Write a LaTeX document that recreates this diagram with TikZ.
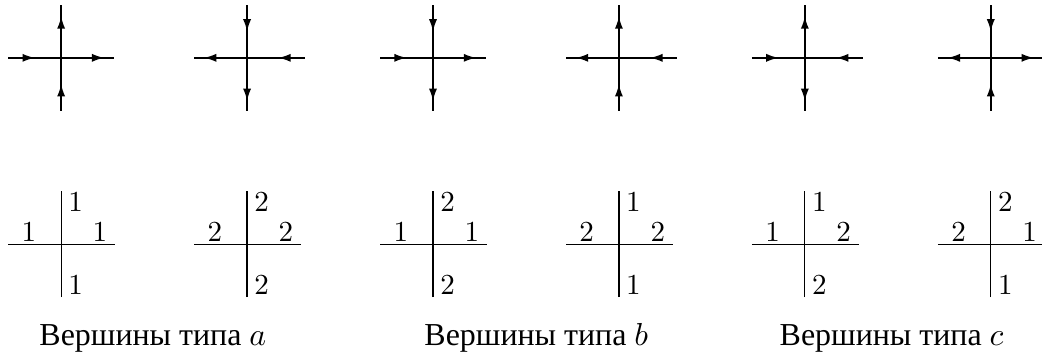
\documentclass[tikz,border=0pt]{standalone}
\usepackage{fontspec}
\newfontfamily\capfont{Liberation Serif}
\usetikzlibrary{arrows.meta,calc}
\tikzset{
  arm/.style={draw=black,line width=0.5pt},
  tip/.style={-{Latex[length=4.2pt,width=2.8pt]},draw=black,line width=0.5pt},
  cross/.style={draw=black,line width=0.4pt},
  num/.style={inner sep=0.6pt},
  capt/.style={anchor=base,font=\capfont\fontsize{11}{13}\selectfont},
}

\begin{document}
\begin{tikzpicture}[x=1cm,y=1cm]
\useasboundingbox (0,0) rectangle (12.61,4.31);

% arrow vertices: direction of each arm's arrow (+1 right/up, -1 left/down)
\foreach \i/\l/\r/\t/\b in {0/1/1/1/1,1/-1/-1/-1/-1,2/1/1/-1/-1,3/-1/-1/1/1,4/1/-1/1/-1,5/-1/1/-1/1}{
  \coordinate (a\i) at ({0.74+2.25*\i},3.61);
  \draw[arm] ($(a\i)+(-0.64,0)$) -- ($(a\i)+({0.67-0.03*(\r)},0)$);
  \draw[arm] ($(a\i)+(0,-0.64)$) -- ($(a\i)+(0,0.64)$);
  \draw[tip] ($(a\i)+({-0.42-0.05*(\l)},0)$) -- ++({0.15*(\l)},0);
  \draw[tip] ($(a\i)+({0.45-0.08*(\r)},0)$) -- ++({0.15*(\r)},0);
  \draw[tip] ($(a\i)+(0,{0.41-0.06*(\t)})$) -- ++(0,{0.15*(\t)});
  \draw[tip] ($(a\i)+(0,{-0.42-0.05*(\b)})$) -- ++(0,{0.15*(\b)});
}

% weighted vertices: 1 = right/up, 2 = left/down
\foreach \i/\l/\r/\t/\b in {0/1/1/1/1,1/2/2/2/2,2/1/1/2/2,3/2/2/1/1,4/1/2/1/2,5/2/1/2/1}{
  \coordinate (b\i) at ({0.74+2.25*\i},1.355);
  \draw[cross] ($(b\i)+(-0.64,0)$) -- ($(b\i)+(0.65,0)$);
  \draw[cross] ($(b\i)+(0,-0.64)$) -- ($(b\i)+(0,0.64)$);
  \node[num,anchor=south] (bl\i) at ($(b\i)+(-0.39,0)$) {$\l$};
  \node[num,anchor=south] (br\i) at ($(b\i)+(0.47,0)$) {$\r$};
  \node[num,anchor=west] (bt\i) at ($(b\i)+(0.06,0.51)$) {$\t$};
  \node[num,anchor=west] (bb\i) at ($(b\i)+(0.06,-0.49)$) {$\b$};
}

\node[capt] (capa) at (1.85,0.133) {Вершины типа $a$};
\node[capt] (capb) at (6.49,0.133) {Вершины типа $b$};
\node[capt] (capc) at (10.79,0.133) {Вершины типа $c$};

\end{tikzpicture}
\end{document}
